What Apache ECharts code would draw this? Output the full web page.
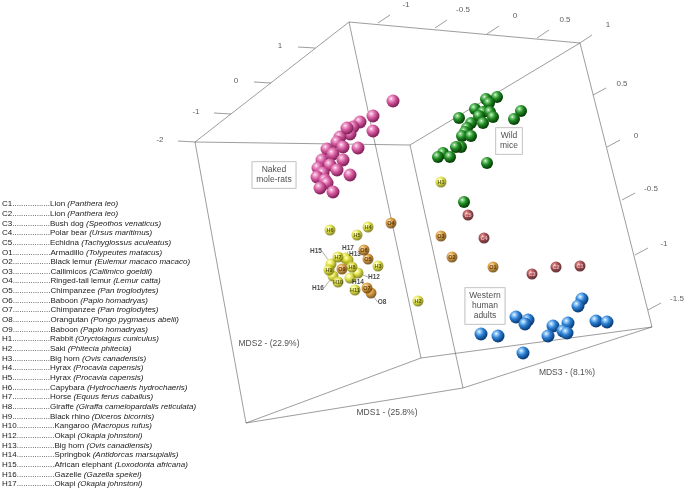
<!DOCTYPE html>
<html>
<head>
<meta charset="utf-8">
<script src="https://cdn.jsdelivr.net/npm/echarts@6/dist/echarts.min.js"></script>
<style>
  html, body { margin: 0; padding: 0; background: #fff; }
  #main { width: 685px; height: 489px; }
</style>
</head>
<body>
<div id="main"></div>
<script>
// MDS scores in its projected (picture plane) coordinates
const moleRats = [
  [393, 101], [373, 116], [360, 122], [353, 127], [373, 131], [350, 134], [340, 137],
  [347, 128], [337, 142], [343, 147], [358, 148], [327, 149], [333, 154], [343, 160],
  [322, 160], [330, 165], [318, 168], [337, 170], [350, 175], [323, 173], [317, 177],
  [325, 180], [327, 183], [320, 188], [333, 192]
];
const wildMice = [
  [497, 97], [486, 99], [489, 103], [475, 109], [483, 112], [490, 112], [479, 116],
  [493, 117], [521, 111], [514, 119], [459, 118], [471, 123], [483, 123], [467, 128],
  [465, 132], [462, 136], [471, 136], [461, 147], [456, 147], [443, 153], [438, 157],
  [450, 157], [487, 163], [464, 202]
];
const westernHumans = [
  [582, 299], [578, 306], [516, 317], [528, 320], [525, 324], [553, 326], [568, 323],
  [563, 331], [567, 333], [548, 336], [596, 321], [607, 322], [481, 334], [498, 336],
  [523, 353]
];
// zoo animals: herbivores (H), omnivores (O), carnivores (C)
const herbivores = [
  ['H1', 441, 182], ['H2', 418, 301], ['H3', 378, 266], ['H4', 368, 227], ['H5', 357, 235],
  ['H6', 330, 230], ['H7', 338, 257], ['H8', 352, 267], ['H9', 329, 270], ['H10', 338, 282],
  ['H11', 355, 290]
];
const herbivoresCallout = [
  ['H15', 331, 264], ['H17', 345, 258], ['H13', 348, 260], ['H12', 358, 273],
  ['H14', 350, 278], ['H16', 333, 276]
];
const omnivores = [
  ['O1', 493, 267], ['O2', 452, 257], ['O3', 441, 236], ['O4', 391, 223], ['O5', 368, 259],
  ['O6', 364, 250], ['O7', 367, 288], ['O9', 342, 269]
];
const omnivoresCallout = [['O8', 371, 293]];
const carnivores = [
  ['C1', 580, 266], ['C2', 556, 267], ['C3', 532, 274], ['C4', 484, 238], ['C5', 468, 215]
];
// where the callout names sit
const calloutText = {
  H15: [316, 251], H17: [348, 248], H13: [355, 254], H12: [374, 277],
  H14: [358, 282], H16: [318, 288], O8: [382, 302]
};

// axis ticks
const topTicks = ['-1', '-0.5', '0', '0.5', '1'];
const leftTicks = ['1', '0', '-1', '-2'];
const rightTicks = ['0.5', '0', '-0.5', '-1', '-1.5'];

// legend
const codes = ['C1', 'C2', 'C3', 'C4', 'C5', 'O1', 'O2', 'O3', 'O4', 'O5', 'O6', 'O7', 'O8', 'O9',
  'H1', 'H2', 'H3', 'H4', 'H5', 'H6', 'H7', 'H8', 'H9', 'H10', 'H12', 'H13', 'H14', 'H15', 'H16', 'H17'];
const commonNames = ['Lion', 'Lion', 'Bush dog', 'Polar bear', 'Echidna', 'Armadillo', 'Black lemur',
  'Callimicos', 'Ringed-tail lemur', 'Chimpanzee', 'Baboon', 'Chimpanzee', 'Orangutan', 'Baboon',
  'Rabbit', 'Saki', 'Big horn', 'Hyrax', 'Hyrax', 'Capybara', 'Horse', 'Giraffe', 'Black rhino',
  'Kangaroo', 'Okapi', 'Big horn', 'Springbok', 'African elephant', 'Gazelle', 'Okapi'];
const latinNames = ['Panthera leo', 'Panthera leo', 'Speothos venaticus', 'Ursus maritimus',
  'Tachyglossus aculeatus', 'Tolypeutes matacus', 'Eulemur macaco macaco', 'Callimico goeldii',
  'Lemur catta', 'Pan troglodytes', 'Papio homadryas', 'Pan troglodytes', 'Pongo pygmaeus abelii',
  'Papio homadryas', 'Oryctolagus cuniculus', 'Phitecia phitecia', 'Ovis canadensis',
  'Procavia capensis', 'Procavia capensis', 'Hydrochaeris hydrochaeris', 'Equus ferus caballus',
  'Giraffa camelopardalis reticulata', 'Diceros bicornis', 'Macropus rufus', 'Okapia johnstoni',
  'Ovis canadiensis', 'Antidorcas marsupialis', 'Loxodonta africana', 'Gazella spekei',
  'Okapia johnstoni'];

// ---- box geometry (perspective projection of the MDS cube) ----
const corner = {
  A: [349, 22], B: [580, 43], C: [652, 327], D: [421, 358],
  E: [195, 142], F: [410, 145], G: [463, 388], H: [246, 423]
};
const edges = ['AB', 'BC', 'CD', 'DA', 'EF', 'FG', 'GH', 'HE', 'AE', 'BF', 'CG', 'DH'];
const topTickAt = [[378, 23], [435, 28], [487, 34], [537, 38], [580, 43]];
const leftTickAt = [[315, 48], [271, 83], [231, 114], [195, 142]];
const rightTickAt = [[593, 95], [607, 147], [622, 200], [635, 255], [648, 310]];

const FONT = 'Liberation Sans, Arial, Helvetica, sans-serif';

// glossy sphere look
function ball(base, light, dark) {
  return {
    type: 'radial', x: 0.36, y: 0.32, r: 0.75,
    colorStops: [
      { offset: 0, color: '#ffffff' },
      { offset: 0.12, color: light },
      { offset: 0.45, color: base },
      { offset: 0.85, color: dark },
      { offset: 1, color: dark }
    ]
  };
}
const pink = ball('#d4589e', '#f4b4d8', '#86245c');
const green = ball('#1f8a22', '#8fd88e', '#094209');
const blue = ball('#2b7fd2', '#a8d6ff', '#0c3f7c');
const yellow = ball('#d2d21c', '#ffff9c', '#767600');
const orange = ball('#c97f10', '#f2c068', '#663c00');
const darkred = ball('#8c1d22', '#d46a6a', '#42050a');

function tickSegs(anchors, d) {
  return anchors.map(p => ({ coords: [p, [p[0] + d[0], p[1] + d[1]]] }));
}
function tickLabels(anchors, labels, d) {
  return anchors.map((p, i) => ({ value: [p[0] + d[0], p[1] + d[1]], name: labels[i] }));
}

function plainSeries(data, color, size) {
  return {
    type: 'scatter',
    data: data,
    symbolSize: size,
    itemStyle: { color: color, opacity: 1 },
    silent: true,
    z: 3
  };
}

function namedSeries(data, color, txt, size) {
  return {
    type: 'scatter',
    data: data.map(d => ({ name: d[0], value: [d[1], d[2]] })),
    symbolSize: size,
    itemStyle: { color: color },
    label: {
      show: true, position: 'inside', formatter: '{b}',
      fontSize: 5.5, fontWeight: 'bold', color: txt, fontFamily: FONT
    },
    silent: true,
    z: 4
  };
}

function calloutSeries(data, color) {
  return {
    type: 'scatter',
    data: data.map(d => ({ name: d[0], value: [d[1], d[2]] })),
    symbolSize: 11,
    itemStyle: { color: color },
    label: {
      show: true, position: 'inside', formatter: '{b}',
      fontSize: 6.5, fontWeight: 'bold', color: '#1a1a1a', fontFamily: FONT
    },
    labelLine: { show: true, lineStyle: { color: '#777', width: 0.6 } },
    labelLayout: function (p) {
      const d = data[p.dataIndex];
      const t = calloutText[d[0]];
      return { dx: t[0] - d[1], dy: t[1] - d[2] };
    },
    silent: true,
    z: 3
  };
}

const legendLines = codes.map((c, i) => ({
  type: 'text',
  left: 2,
  top: 200 + i * 9.66,
  style: {
    text: '{n|' + c + '.................' + commonNames[i] + ' }{i|(' + latinNames[i] + ')}',
    rich: {
      n: { fontSize: 8, fontFamily: FONT, fill: '#1a1a1a' },
      i: { fontSize: 8, fontFamily: FONT, fontStyle: 'italic', fill: '#1a1a1a' }
    }
  }
}));

const boxText = {
  type: 'scatter',
  data: [
    { name: 'Naked\nmole-rats', value: [274, 175] },
    { name: 'Wild\nmice', value: [509, 141] },
    { name: 'Western\nhuman\nadults', value: [485, 306] }
  ],
  symbolSize: 0,
  label: {
    show: true, position: 'inside', formatter: '{b}', align: 'center',
    fontSize: 8.5, lineHeight: 10, color: '#222', fontFamily: FONT,
    backgroundColor: '#fff', borderColor: '#aaa', borderWidth: 0.8,
    padding: [3, 4, 3, 4]
  },
  silent: true,
  z: 6
};

const axisTitles = {
  type: 'scatter',
  data: [
    { name: 'MDS2 - (22.9%)', value: [269, 344] },
    { name: 'MDS1 - (25.8%)', value: [387, 413] },
    { name: 'MDS3 - (8.1%)', value: [567, 373] }
  ],
  symbolSize: 0,
  label: { show: true, position: 'inside', formatter: '{b}', fontSize: 8.5, color: '#222', fontFamily: FONT },
  silent: true,
  z: 6
};

const tickText = {
  type: 'scatter',
  data: [].concat(
    tickLabels(topTickAt, topTicks, [28, -18]),
    tickLabels(leftTickAt, leftTicks, [-35, -2]),
    tickLabels(rightTickAt, rightTicks, [29, -11])
  ),
  symbolSize: 0,
  label: { show: true, position: 'inside', formatter: '{b}', fontSize: 8, color: '#333', fontFamily: FONT },
  silent: true,
  z: 6
};

const chart = echarts.init(document.getElementById('main'));
chart.setOption({
  backgroundColor: '#fff',
  animation: false,
  grid: { left: 0, right: 0, top: 0, bottom: 0 },
  xAxis: { type: 'value', min: 0, max: 685, show: false },
  yAxis: { type: 'value', min: 0, max: 489, inverse: true, show: false },
  graphic: legendLines,
  series: [
    {
      type: 'lines',
      coordinateSystem: 'cartesian2d',
      data: edges.map(e => ({ coords: [corner[e[0]], corner[e[1]]] }))
        .concat(tickSegs(topTickAt, [12, -8]), tickSegs(leftTickAt, [-17, -1]), tickSegs(rightTickAt, [13, -7])),
      lineStyle: { color: '#5a5a5a', width: 0.6, opacity: 1 },
      silent: true,
      z: 1
    },
    plainSeries(moleRats, pink, 13),
    plainSeries(wildMice, green, 12),
    plainSeries(westernHumans, blue, 13),
    calloutSeries(herbivoresCallout, yellow),
    calloutSeries(omnivoresCallout, orange),
    namedSeries(herbivores, yellow, '#3a3a00', 11),
    namedSeries(omnivores, orange, '#3a2000', 11),
    namedSeries(carnivores, darkred, '#f3d6d6', 11),
    boxText,
    axisTitles,
    tickText
  ]
});
</script>
</body>
</html>
